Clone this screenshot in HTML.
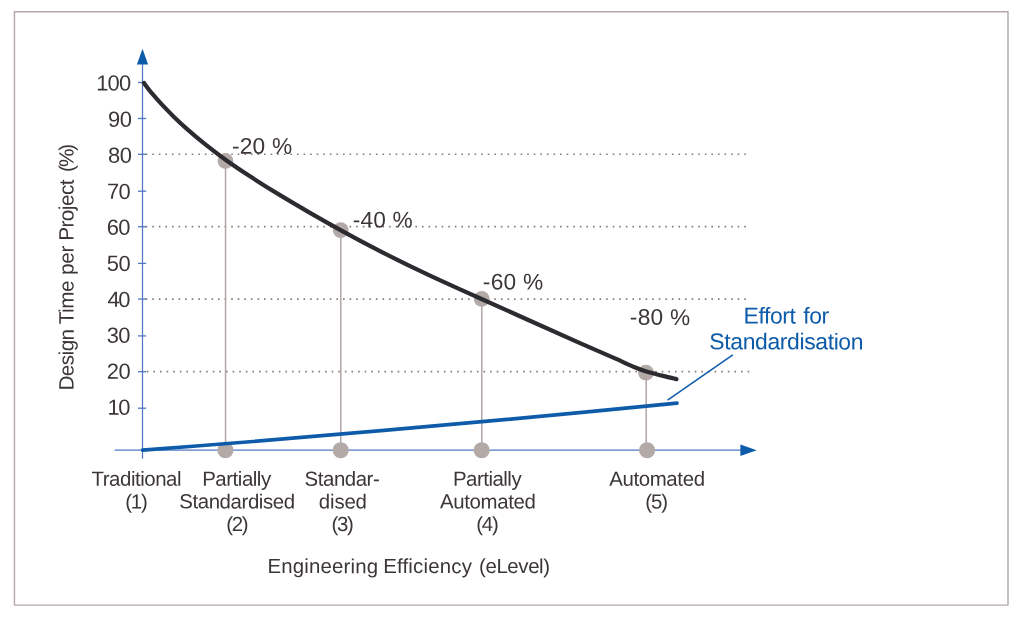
<!DOCTYPE html>
<html lang="en">
<head>
<meta charset="utf-8">
<title>Engineering Efficiency</title>
<style>
html,body{margin:0;padding:0;background:#fff;}
body{width:1024px;height:619px;overflow:hidden;}
svg{display:block;will-change:transform;}
</style>
</head>
<body>
<svg width="1024" height="619" viewBox="0 0 1024 619" text-rendering="geometricPrecision" font-family="'Liberation Sans', Arial, sans-serif">
<rect width="1024" height="619" fill="#ffffff"/>
<rect x="14.45" y="11.65" width="993.55" height="593.45" fill="none" stroke="#b4a9a7" stroke-width="1.45" stroke-linejoin="round"/>
<line x1="145.67" y1="154.25" x2="745.97" y2="154.25" stroke="#8a7b78" stroke-width="1.6" stroke-dasharray="1.6 4.978"/>
<line x1="145.67" y1="226.6" x2="745.97" y2="226.6" stroke="#8a7b78" stroke-width="1.6" stroke-dasharray="1.6 4.978"/>
<line x1="145.67" y1="299.08" x2="745.97" y2="299.08" stroke="#8a7b78" stroke-width="1.6" stroke-dasharray="1.6 4.978"/>
<line x1="146.80" y1="371.6" x2="749.28" y2="371.6" stroke="#8a7b78" stroke-width="1.6" stroke-dasharray="1.6 5.002"/>
<line x1="142.5" y1="63" x2="142.5" y2="458.7" stroke="#5079c4" stroke-width="1.25"/>
<line x1="114.7" y1="450.1" x2="742" y2="450.1" stroke="#5079c4" stroke-width="1.25"/>
<line x1="138" y1="82.5" x2="146.2" y2="82.5" stroke="#5079c4" stroke-width="1.3"/>
<line x1="138" y1="118.5" x2="146.2" y2="118.5" stroke="#5079c4" stroke-width="1.3"/>
<line x1="138" y1="154.3" x2="146.2" y2="154.3" stroke="#5079c4" stroke-width="1.3"/>
<line x1="138" y1="191.2" x2="146.2" y2="191.2" stroke="#5079c4" stroke-width="1.3"/>
<line x1="138" y1="226.7" x2="146.2" y2="226.7" stroke="#5079c4" stroke-width="1.3"/>
<line x1="138" y1="263.4" x2="146.2" y2="263.4" stroke="#5079c4" stroke-width="1.3"/>
<line x1="138" y1="299.05" x2="146.2" y2="299.05" stroke="#5079c4" stroke-width="1.3"/>
<line x1="138" y1="335.9" x2="146.2" y2="335.9" stroke="#5079c4" stroke-width="1.3"/>
<line x1="138" y1="371.7" x2="146.2" y2="371.7" stroke="#5079c4" stroke-width="1.3"/>
<line x1="138" y1="408.2" x2="146.2" y2="408.2" stroke="#5079c4" stroke-width="1.3"/>
<polygon points="142.5,48.8 136.9,64.4 148.1,64.4" fill="#0d5ba9"/>
<polygon points="756.7,450.3 740.4,444.6 740.4,456" fill="#0d5ba9"/>
<line x1="225.55" y1="161" x2="225.55" y2="450.1" stroke="#b0a6a4" stroke-width="1.5"/>
<line x1="340.80" y1="230.1" x2="340.80" y2="450.1" stroke="#b0a6a4" stroke-width="1.5"/>
<line x1="481.75" y1="298.8" x2="481.75" y2="450.1" stroke="#b0a6a4" stroke-width="1.5"/>
<line x1="646.20" y1="372.7" x2="646.20" y2="450.1" stroke="#b0a6a4" stroke-width="1.5"/>
<circle cx="225.45" cy="161" r="7.9" fill="#b3aaa8"/>
<circle cx="225.45" cy="450.25" r="8.1" fill="#b3aaa8"/>
<circle cx="340.7" cy="230.1" r="7.9" fill="#b3aaa8"/>
<circle cx="340.7" cy="450.25" r="8.1" fill="#b3aaa8"/>
<circle cx="481.65" cy="298.8" r="7.9" fill="#b3aaa8"/>
<circle cx="481.65" cy="450.25" r="8.1" fill="#b3aaa8"/>
<circle cx="646.0" cy="372.7" r="7.9" fill="#b3aaa8"/>
<circle cx="647.1" cy="450.25" r="8.1" fill="#b3aaa8"/>
<path d="M142.6,450.15 Q409.9,429.8 677.0,403.2" fill="none" stroke="#0d5ba9" stroke-width="3.7" stroke-linecap="round"/>
<line x1="667.6" y1="400.2" x2="732.8" y2="354.8" stroke="#0d5ba9" stroke-width="1.5"/>
<path d="M144.00,83.00 C146.67,86.63 149.33,90.28 152.00,93.40 C155.33,97.30 158.67,101.11 162.00,104.66 C166.00,108.92 170.00,113.00 174.00,116.90 C178.67,121.45 183.33,125.78 188.00,129.91 C193.67,134.93 199.33,139.66 205.00,144.17 C211.83,149.61 218.67,154.81 225.50,159.70 C233.67,165.54 241.83,170.97 250.00,176.32 C260.00,182.87 270.00,189.11 280.00,195.16 C290.00,201.21 300.00,207.07 310.00,212.83 C320.33,218.78 330.67,224.64 341.00,230.35 C354.00,237.54 367.00,244.47 380.00,251.14 C396.67,259.69 413.33,267.83 430.00,275.61 C447.17,283.63 464.33,291.30 481.50,298.96 C497.67,306.17 513.83,313.44 530.00,320.73 C546.67,328.25 563.33,335.77 580.00,343.15 C591.67,348.32 603.33,353.43 615.00,358.42 C621.33,361.13 627.67,364.40 634.00,367.00 C638.67,368.91 643.33,370.60 648.00,372.00 C657.47,374.84 666.93,376.54 676.40,379.10" fill="none" stroke="#2c2c30" stroke-width="4.2" stroke-linecap="round" stroke-linejoin="round"/>
<text x="96.23" y="90.5" transform="rotate(0.1 114.0 90.5)" font-size="21.9" fill="#3c3637" letter-spacing="-0.822">100</text>
<text x="108.00" y="126.8" transform="rotate(0.1 120.1 126.8)" font-size="21.9" fill="#3c3637" letter-spacing="-0.470">90</text>
<text x="108.08" y="162.8" transform="rotate(0.1 120.1 162.8)" font-size="21.9" fill="#3c3637" letter-spacing="-0.552">80</text>
<text x="107.05" y="198.9" transform="rotate(0.1 119.1 198.9)" font-size="21.9" fill="#3c3637" letter-spacing="-0.623">70</text>
<text x="106.73" y="234.85" transform="rotate(0.1 118.8 234.85)" font-size="21.9" fill="#3c3637" letter-spacing="-0.549">60</text>
<text x="106.72" y="270.9" transform="rotate(0.1 118.9 270.9)" font-size="21.9" fill="#3c3637" letter-spacing="-0.333">50</text>
<text x="107.39" y="306.9" transform="rotate(0.1 118.8 306.9)" font-size="21.9" fill="#3c3637" letter-spacing="-1.208">40</text>
<text x="106.72" y="342.85" transform="rotate(0.1 118.8 342.85)" font-size="21.9" fill="#3c3637" letter-spacing="-0.533">30</text>
<text x="106.79" y="378.8" transform="rotate(0.1 118.9 378.8)" font-size="21.9" fill="#3c3637" letter-spacing="-0.358">20</text>
<text x="107.58" y="414.85" transform="rotate(0.1 119.5 414.85)" font-size="21.9" fill="#3c3637" letter-spacing="-1.393">10</text>
<text x="231.97" y="153.8" transform="rotate(0.1 262.1 153.8)" font-size="22.7" fill="#3c3637" letter-spacing="0.229">-20 %</text>
<text x="352.77" y="227.6" transform="rotate(0.1 382.9 227.6)" font-size="22.7" fill="#3c3637" letter-spacing="0.179">-40 %</text>
<text x="482.87" y="289.6" transform="rotate(0.1 513.1 289.6)" font-size="22.7" fill="#3c3637" letter-spacing="0.266">-60 %</text>
<text x="629.87" y="324.9" transform="rotate(0.1 660.1 324.9)" font-size="22.7" fill="#3c3637" letter-spacing="0.266">-80 %</text>
<text x="743.50" y="323.5" transform="rotate(0.1 770.6 323.5)" font-size="22.9" fill="#0d5ba9" letter-spacing="-0.378">Effort</text>
<text x="803.25" y="323.5" transform="rotate(0.1 816.1 323.5)" font-size="22.9" fill="#0d5ba9" letter-spacing="-0.453">for</text>
<text x="709.37" y="349.3" transform="rotate(0.1 786.3 349.3)" font-size="22.9" fill="#0d5ba9" letter-spacing="-0.354">Standardisation</text>
<text x="91.54" y="485.75" transform="rotate(0.1 136.1 485.75)" font-size="20.4" fill="#3c3637" letter-spacing="-0.451">Traditional</text>
<text x="125.19" y="508.45" transform="rotate(0.1 136.6 508.45)" font-size="20.4" fill="#3c3637" letter-spacing="-1.110">(1)</text>
<text x="202.23" y="485.75" transform="rotate(0.1 237.4 485.75)" font-size="20.4" fill="#3c3637" letter-spacing="-0.452">Partially</text>
<text x="179.22" y="508.45" transform="rotate(0.1 237.1 508.45)" font-size="20.4" fill="#3c3637" letter-spacing="-0.391">Standardised</text>
<text x="226.19" y="531.05" transform="rotate(0.1 237.4 531.05)" font-size="20.4" fill="#3c3637" letter-spacing="-1.310">(2)</text>
<text x="304.62" y="485.75" transform="rotate(0.1 342.4 485.75)" font-size="20.4" fill="#3c3637" letter-spacing="-0.444">Standar-</text>
<text x="318.85" y="508.45" transform="rotate(0.1 342.8 508.45)" font-size="20.4" fill="#3c3637" letter-spacing="-0.158">dised</text>
<text x="331.59" y="531.05" transform="rotate(0.1 342.8 531.05)" font-size="20.4" fill="#3c3637" letter-spacing="-1.360">(3)</text>
<text x="452.93" y="485.75" transform="rotate(0.1 487.9 485.75)" font-size="20.4" fill="#3c3637" letter-spacing="-0.483">Partially</text>
<text x="440.03" y="508.45" transform="rotate(0.1 487.4 508.45)" font-size="20.4" fill="#3c3637" letter-spacing="-0.347">Automated</text>
<text x="476.19" y="531.05" transform="rotate(0.1 487.5 531.05)" font-size="20.4" fill="#3c3637" letter-spacing="-1.210">(4)</text>
<text x="609.18" y="485.75" transform="rotate(0.1 656.5 485.75)" font-size="20.4" fill="#3c3637" letter-spacing="-0.353">Automated</text>
<text x="645.34" y="508.45" transform="rotate(0.1 656.8 508.45)" font-size="20.4" fill="#3c3637" letter-spacing="-1.085">(5)</text>
<text x="267.43" y="573.1" transform="rotate(0.1 322.9 573.1)" font-size="20.4" fill="#3c3637" letter-spacing="0.181">Engineering</text>
<text x="383.23" y="573.1" transform="rotate(0.1 428.2 573.1)" font-size="20.4" fill="#3c3637" letter-spacing="0.191">Efficiency</text>
<text x="478.99" y="573.1" transform="rotate(0.1 514.6 573.1)" font-size="20.4" fill="#3c3637" letter-spacing="-0.368">(eLevel)</text>
<g transform="translate(73.6,388.7) rotate(-90)" font-size="20.7" fill="#3c3637">
<text x="-1.86" y="0" transform="rotate(0.1 29.1 0)" letter-spacing="-0.549">Design</text>
<text x="64.42" y="0" transform="rotate(0.1 86.1 0)" letter-spacing="-0.473">Time</text>
<text x="113.82" y="0" transform="rotate(0.1 129.0 0)" letter-spacing="-0.278">per</text>
<text x="147.89" y="0" transform="rotate(0.1 179.4 0)" letter-spacing="-0.506">Project</text>
<text x="216.78" y="0" transform="rotate(0.1 230.8 0)" letter-spacing="-2.018">(%)</text>
</g>
</svg>
</body>
</html>
